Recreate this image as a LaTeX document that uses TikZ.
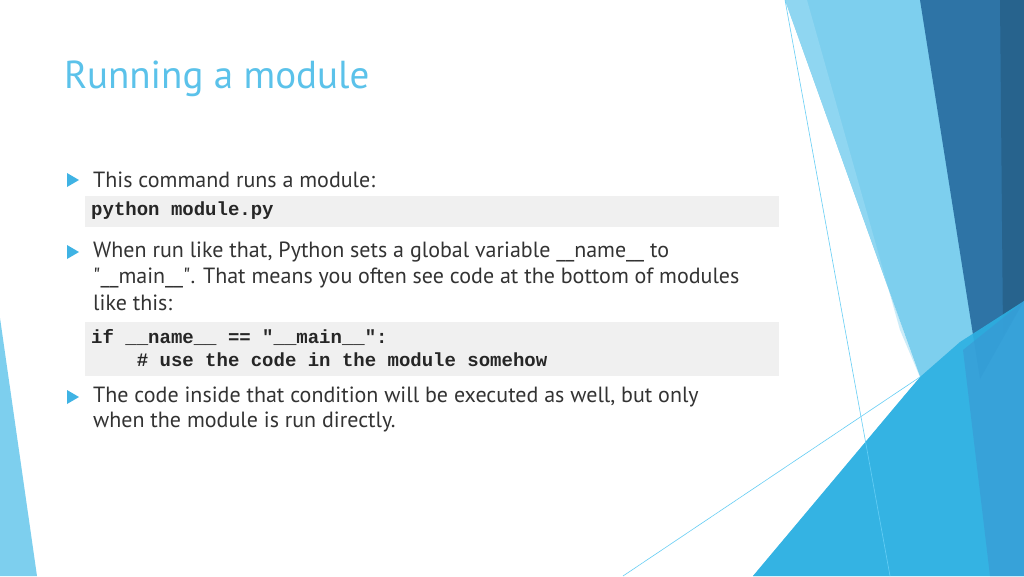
\documentclass[tikz,border=0pt]{standalone}
\usepackage{fontspec}
\setmainfont{PT Sans}
\setmonofont{Liberation Mono}
\begin{document}
\begin{tikzpicture}[x=1pt,y=-1pt,
  body/.style={anchor=west,inner sep=0pt,font=\fontsize{22}{26}\selectfont,text=black!80},
  code/.style={anchor=west,inner sep=0pt,font=\fontsize{19}{23}\selectfont\ttfamily\bfseries,text=black!85},
  codebox/.style={fill=black!6,draw=none},
  bul/.style={fill=bulc,draw=none}]
\definecolor{lb}{HTML}{7DCFEE}
\definecolor{lb2}{HTML}{8FD6F1}
\definecolor{db}{HTML}{2E74A6}
\definecolor{bb}{HTML}{2DB0E2}
\definecolor{mb}{HTML}{3A97D3}
\definecolor{bulc}{HTML}{3FB3E4}
\definecolor{titc}{HTML}{5BC2EA}
\useasboundingbox (0,0) rectangle (1024,576);
\fill[white] (0,0) rectangle (1024,576);
% decoration
\fill[lb] (785,0) -- (1024,0) -- (1024,576) -- (753,576) -- (920,377) -- cycle;
\fill[lb2] (785,0) -- (807,0) -- (900,330) -- (920,377) -- cycle;
\fill[db] (920,0) -- (1024,0) -- (1024,301) -- (980,379) -- cycle;
\fill[db!85!black] (1000,0) -- (1024,0) -- (1024,301) -- (1003,335) -- cycle;
\fill[bb,opacity=0.9] (753,576) -- (920,377) -- (960,342) -- (1024,301) -- (1024,576) -- cycle;
\fill[mb,opacity=0.6] (963,350) -- (1024,301) -- (1024,576) -- (990,576) -- cycle;
\fill[white,opacity=0.55] (870,239) -- (920,377) -- (783,533) -- (845,300) -- cycle;
\draw[cyan!60,line width=0.6] (785,0) -- (890,576);
\draw[cyan!60,line width=0.6] (623,576) -- (920,377);
\fill[lb] (0,318) -- (37,576) -- (0,576) -- cycle;
% title
\node[anchor=west,inner sep=0pt,font=\fontsize{39}{44}\selectfont,text=titc] (title) at (64,79) {Running a module};
% bullets
\fill[bul] (67,173) -- (79,180) -- (67,187) -- cycle;
\fill[bul] (67,245) -- (79,252) -- (67,259) -- cycle;
\fill[bul] (67,390) -- (79,397) -- (67,404) -- cycle;
\node[body] (t1) at (93,180) {This command runs a module:};
\fill[codebox] (85,196) rectangle (779,227);
\node[code] (c1) at (91,211) {python module.py};
\node[body] (t2a) at (93,252) {When run like that, Python sets a global variable \_\_name\_\_ to};
\node[body] (t2b) at (93,278) {\textquotedbl\_\_main\_\_\textquotedbl. That means you often see code at the bottom of modules};
\node[body] (t2c) at (93,303) {like this:};
\fill[codebox] (85,322) rectangle (779,376);
\node[code] (c2) at (91,337) {if \_\_name\_\_ == "\_\_main\_\_":};
\node[code] (c3) at (91,360) {\ \ \ \ \# use the code in the module somehow};
\node[body] (t3a) at (93,397) {The code inside that condition will be executed as well, but only};
\node[body] (t3b) at (93,422) {when the module is run directly.};
\end{tikzpicture}
\end{document}
